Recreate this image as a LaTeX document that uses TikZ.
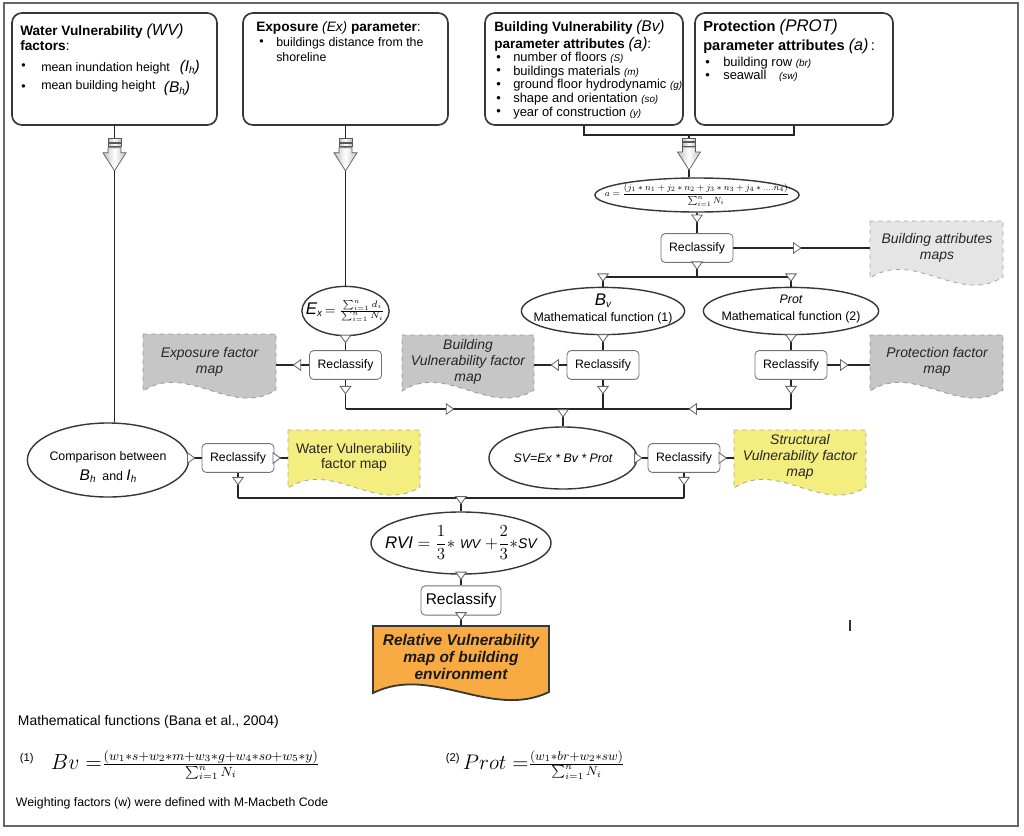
\RequirePackage{fix-cm}
\documentclass[tikz,border=0pt]{standalone}
\usepackage[no-math]{fontspec}
\setmainfont{Liberation Sans}
\usepackage{amsmath}
\usepackage{graphicx}
\usepackage{tikz}
\usetikzlibrary{arrows.meta,positioning,calc,fit,shapes.geometric,decorations.markings}

\definecolor{inkgray}{RGB}{55,55,55}
\definecolor{mapgray}{RGB}{198,198,198}
\definecolor{attrgray}{RGB}{229,229,229}
\definecolor{mapyellow}{RGB}{244,237,128}
\definecolor{maporange}{RGB}{249,171,67}

\newcommand{\lowsub}[2]{#1\raisebox{-0.3ex}{\scriptsize #2}}
% document shape with a wavy bottom: style, name, left, top, right, bottom of the sides
\newcommand{\mapdoc}[6]{%
  \pgfmathsetmacro{\mdA}{#5-(#5-#3)/3}
  \pgfmathsetmacro{\mdB}{#3+(#5-#3)/3}
  \draw[#1] (#3,#4) -- (#5,#4) -- (#5,#6) .. controls (\mdA,#6+28) and (\mdB,#6-28) .. (#3,#6+1) -- cycle;
  \node[fit={(#3,#4) (#5,#6)}, inner sep=0pt] (#2) {};
}

\tikzset{
  topbox/.style={draw=inkgray, line width=1.2pt, rounded corners=7pt, inner sep=0pt},
  rcbox/.style={draw=black!55, line width=0.6pt, rounded corners=3pt, fill=white, inner sep=0pt,
    minimum width=1.8cm, minimum height=0.72cm, font=\fontsize{8.7}{10}\selectfont},
  fnell/.style={ellipse, draw=inkgray, line width=1pt, fill=white, inner sep=0pt},
  elltxt/.style={align=center, inner sep=0pt, font=\fontsize{8.8}{12}\selectfont},
  link/.style={draw=black!85, line width=1.1pt},
  midarrow/.style={postaction={decorate}, decoration={markings, mark=at position #1 with
    {\arrow[black!60, line width=0.6pt]{Triangle[open, fill=white, width=8.5pt, length=6pt]}}}},
  midarrow/.default=0.5,
  hdr/.style={anchor=west, inner sep=0pt, font=\fontsize{9.7}{11}\selectfont\bfseries},
  itm/.style={anchor=west, inner sep=0pt, font=\fontsize{8.8}{10}\selectfont},
  greymap/.style={fill=mapgray, draw=black!40, dashed, line width=0.6pt},
  attrmap/.style={fill=attrgray, draw=black!35, dashed, line width=0.6pt},
  yellowmap/.style={fill=mapyellow, draw=black!35, dashed, line width=0.6pt},
  finalmap/.style={fill=maporange, draw=inkgray, line width=1.3pt},
  maptxt/.style={align=center, inner sep=0pt, font=\fontsize{9.9}{11.6}\selectfont\itshape, text=black!85},
  blockarrow/.pic={
    \shadedraw[left color=black!25, right color=black!25, middle color=white, draw=black!65, line width=0.5pt]
      (-6.5,0) rectangle (6.5,3.5) (-6.5,4.5) rectangle (6.5,8);
    \shadedraw[left color=black!25, right color=black!25, middle color=white, draw=black!65, line width=0.5pt]
      (-6.5,9) -- (6.5,9) -- (6.5,14) -- (11.5,14) -- (0,32) -- (-11.5,14) -- (-6.5,14) -- cycle;
  }
}

\begin{document}
\begin{tikzpicture}[x=0.025cm, y=-0.025cm]
  \useasboundingbox (0,0) rectangle (1024,835);
  \draw[black!60, line width=0.8pt] (4,3) rectangle (1018,826);

  % Parameter boxes
  \node[topbox, fit={(12,13) (217,125)}] (wvbox) {};
  \node[topbox, fit={(243,13) (448,125)}] (exbox) {};
  \node[topbox, fit={(485,13) (683,125)}] (bvbox) {};
  \node[topbox, fit={(695,13) (893,125)}] (protbox) {};

  \node[hdr] (wvh1) at (20,31) {Water Vulnerability {\mdseries\itshape\fontsize{11.5}{12}\selectfont(WV)}};
  \node[hdr] (wvh2) at (20,46) {factors{\mdseries:}};
  \node[itm] (wvb1) at (21,67) {\textbullet};
  \node[itm] (wvi1) at (41,67) {mean inundation height\hspace{7pt}{\itshape\fontsize{11}{12}\selectfont(\lowsub{I}{h})}};
  \node[itm] (wvb2) at (21,88) {\textbullet};
  \node[itm] (wvi2) at (41,88) {mean building height\hspace{6pt}\raisebox{-2pt}{\itshape\fontsize{11}{12}\selectfont(\lowsub{B}{h})}};

  \node[hdr] (exh) at (256,28) {Exposure {\mdseries\itshape(Ex)} parameter{\mdseries:}};
  \node[itm] (exb1) at (259,43) {\textbullet};
  \node[itm] (exi1) at (276,43) {buildings distance from the};
  \node[itm] (exi2) at (276,57) {shoreline};

  \node[hdr, font=\fontsize{9.6}{11}\selectfont\bfseries] (bvh1) at (494,27) {Building Vulnerability {\mdseries\itshape\fontsize{11}{12}\selectfont(Bv)}};
  \node[hdr, font=\fontsize{9.6}{11}\selectfont\bfseries] (bvh2) at (494,44) {parameter attributes {\mdseries\itshape\fontsize{11}{12}\selectfont(a)}{\mdseries:}};
  \foreach \txt [count=\k] in {number of floors {\itshape\scriptsize(S)},
      buildings materials {\itshape\scriptsize(m)}, ground floor hydrodynamic {\itshape\scriptsize(g)},
      shape and orientation {\itshape\scriptsize(so)}, year of construction {\itshape\scriptsize(y)}} {
    \node[itm, font=\fontsize{9.2}{10}\selectfont] (bvb\k) at (496,44.3+13.7*\k) {\textbullet};
    \node[itm, font=\fontsize{9.2}{10}\selectfont] (bvi\k) at (513,44.3+13.7*\k) {\txt};
  }

  \node[hdr, font=\fontsize{10.4}{12}\selectfont\bfseries] (proth1) at (703,27) {Protection {\mdseries\itshape\fontsize{12}{13}\selectfont(PROT)}};
  \node[hdr, font=\fontsize{10.4}{12}\selectfont\bfseries] (proth2) at (703,46) {parameter attributes {\mdseries\itshape\fontsize{11.5}{12}\selectfont(a)}{\mdseries\,:}};
  \node[itm, font=\fontsize{9.2}{10}\selectfont] (protb1) at (705,63) {\textbullet};
  \node[itm, font=\fontsize{9.2}{10}\selectfont] (proti1) at (723,63) {building row {\itshape\scriptsize(br)}};
  \node[itm, font=\fontsize{9.2}{10}\selectfont] (protb2) at (705,76) {\textbullet};
  \node[itm, font=\fontsize{9.2}{10}\selectfont] (proti2) at (723,76) {seawall\hspace{9pt}{\itshape\scriptsize(sw)}};

  % Functions and reclassification steps
  \node[fnell, minimum width=5.1cm, minimum height=0.85cm] (aform) at (697,195) {};
  \node[elltxt, font=\fontsize{8}{9}\selectfont] (aformtxt) at (aform) {\resizebox{4.6cm}{!}{$a=\dfrac{(j_1*n_1+j_2*n_2+j_3*n_3+j_4*....n_4)}{\sum_{i=1}^{n}N_i}$}};
  \node[rcbox] (rc1) at (697,248) {Reclassify};

  \node[fnell, minimum width=4.08cm, minimum height=1.18cm] (bvell) at (603,311) {};
  \node[elltxt] (bvelltxt) at (603,309) {{\itshape\fontsize{12}{12}\selectfont\lowsub{B}{v}}\\Mathematical function (1)};
  \node[fnell, minimum width=4.38cm, minimum height=1.18cm] (protell) at (791,311) {};
  \node[elltxt] (protelltxt) at (791,309) {{\itshape Prot}\\Mathematical function (2)};
  \node[fnell, minimum width=2.18cm, minimum height=1.23cm] (exell) at (345.5,311) {};
  \node[elltxt, font=\fontsize{12}{12}\selectfont] (exelltxt) at (345.5,311) {{\itshape\lowsub{E}{x}}\,{\fontsize{9.5}{10}\selectfont$=\frac{\sum_{i=1}^{n}d_i}{\sum_{i=1}^{n}N_i}$}};

  \node[rcbox] (exrc) at (345.5,365) {Reclassify};
  \node[rcbox] (bvrc) at (603,365) {Reclassify};
  \node[rcbox] (protrc) at (791,365) {Reclassify};

  \node[fnell, minimum width=3.7cm, minimum height=1.55cm] (sv) at (563,458) {};
  \node[elltxt] (svtxt) at (563,458) {\itshape SV=Ex * Bv * Prot};
  \node[rcbox] (svrc) at (684,458) {Reclassify};

  \node[fnell, minimum width=4.03cm, minimum height=1.85cm] (cmp) at (108,460) {};
  \node[elltxt, font=\fontsize{8.8}{14}\selectfont] (cmptxt) at (108,467) {Comparison between\\{\itshape\fontsize{11}{11}\selectfont\lowsub{B}{h}}\ \ and {\itshape\fontsize{11}{11}\selectfont\lowsub{I}{h}}};
  \node[rcbox] (wrc) at (238,458) {Reclassify};

  \node[fnell, minimum width=4.5cm, minimum height=1.55cm] (rvi) at (461,543) {};
  \node[elltxt, font=\fontsize{12}{12}\selectfont] (rvitxt) at (461,543) {{\itshape RVI} $=\dfrac{1}{3}*$ {\itshape\fontsize{9}{9}\selectfont WV} $+\dfrac{2}{3}*${\itshape\fontsize{10}{10}\selectfont SV}};
  \node[rcbox, minimum width=2.0cm, minimum height=0.73cm, font=\fontsize{11}{12}\selectfont] (finrc) at (461,600.5) {Reclassify};

  % Output maps
  \mapdoc{attrmap}{attrdoc}{870}{221}{1003}{277}
  \node[maptxt] (attrdoctxt) at (937,248) {Building attributes\\maps};
  \mapdoc{greymap}{expdoc}{143}{334}{276}{390}
  \node[maptxt] (expdoctxt) at (209.5,362) {Exposure factor\\map};
  \mapdoc{greymap}{bvdoc}{402}{335}{534}{390}
  \node[maptxt] (bvdoctxt) at (468,362) {Building\\Vulnerability factor\\map};
  \mapdoc{greymap}{protdoc}{870}{335}{1003}{390}
  \node[maptxt] (protdoctxt) at (937,362) {Protection factor\\map};
  \mapdoc{yellowmap}{wvdoc}{288}{430}{420}{487}
  \node[maptxt, font=\fontsize{9.9}{10.7}\selectfont] (wvdoctxt) at (354,457) {Water Vulnerability\\factor map};
  \mapdoc{yellowmap}{svdoc}{734}{430}{866}{487}
  \node[maptxt] (svdoctxt) at (800,457) {Structural\\Vulnerability factor\\map};
  \mapdoc{finalmap}{rvidoc}{373}{626}{549}{692}
  \node[maptxt, font=\fontsize{11}{11.8}\selectfont\bfseries\itshape, text=black!90] (rvidoctxt) at (461,657) {Relative Vulnerability\\map of building\\environment};

  % Connectors
  \draw[link] (wvbox.south) -- (wvbox.south |- cmp.north);
  \pic at ($(wvbox.south)+(0,13)$) {blockarrow};
  \draw[link] (exbox.south) -- (exell);
  \pic at ($(exbox.south)+(0,13)$) {blockarrow};
  \coordinate (bvjoin) at (689,135);
  \draw[link] (bvbox.south) |- (bvjoin) -| (protbox.south);
  \draw[link] (bvjoin) -- (bvjoin |- aform.north);
  \pic at ($(bvjoin)+(0,3)$) {blockarrow};

  \draw[link, midarrow] (aform) -- (rc1);
  \draw[link, midarrow] (rc1) -- (rc1 -| attrdoc.west);
  \coordinate (split) at (697,277);
  \draw[link, midarrow] (rc1) -- (split);
  \draw[link] (split -| bvell) -- (split -| protell);
  \draw[link, midarrow] (split -| bvell) -- (bvell);
  \draw[link, midarrow] (split -| protell) -- (protell);

  \draw[link, midarrow] (exell) -- (exrc);
  \draw[link, midarrow] (bvell) -- (bvrc);
  \draw[link, midarrow] (protell) -- (protrc);
  \draw[link, midarrow] (exrc) -- (exrc -| expdoc.east);
  \draw[link, midarrow] (bvrc) -- (bvrc -| bvdoc.east);
  \draw[link, midarrow] (protrc) -- (protrc -| protdoc.west);

  \coordinate (hub) at (563,409);
  \draw[link, midarrow] (exrc) -- (exrc |- hub);
  \draw[link, midarrow] (exrc |- hub) -- (hub);
  \draw[link, midarrow] (bvrc) -- (bvrc |- hub);
  \draw[link, midarrow] (protrc) -- (protrc |- hub);
  \draw[link, midarrow=0.45] (protrc |- hub) -- (hub);
  \draw[link, midarrow] (hub) -- (sv);

  \draw[link, midarrow] (sv) -- (svrc);
  \draw[link, midarrow] (svrc) -- (svrc -| svdoc.west);
  \draw[link, midarrow] (wrc -| cmp.east) -- (wrc);
  \draw[link, midarrow] (wrc) -- (wrc -| wvdoc.west);
  \coordinate (join2) at (461,498);
  \draw[link, midarrow] (svrc) -- (svrc |- join2);
  \draw[link, midarrow] (wrc) -- (wrc |- join2);
  \draw[link] (wrc |- join2) -- (svrc |- join2);
  \draw[link, midarrow] (join2) -- (rvi);
  \draw[link, midarrow] (rvi) -- (finrc);
  \draw[link, midarrow] (finrc) -- (rvidoc);

  \draw[black!80, line width=0.8pt] (850,620) -- (850,631);

  % Mathematical functions
  \node[anchor=west, font=\fontsize{9.9}{11}\selectfont] (mfhead) at (13,722) {Mathematical functions (Bana et al., 2004)};
  \node[anchor=west, font=\fontsize{8}{9}\selectfont] (eqonenum) at (15,759) {(1)};
  \node[anchor=west, font=\fontsize{13.5}{14}\selectfont] (eqone) at (46,765) {{\fontsize{15.5}{16}\selectfont$Bv=$}$\frac{(w_1*s+w_2*m+w_3*g+w_4*so+w_5*y)}{\sum_{i=1}^{n}N_i}$};
  \node[anchor=west, font=\fontsize{8}{9}\selectfont] (eqtwonum) at (441,759) {(2)};
  \node[anchor=west, font=\fontsize{13}{14}\selectfont] (eqtwo) at (458,765) {{\fontsize{15}{16}\selectfont$Prot=$}$\frac{(w_1*br+w_2*sw)}{\sum_{i=1}^{n}N_i}$};
  \node[anchor=west, font=\fontsize{8.75}{10}\selectfont] (wnote) at (11,803) {Weighting factors (w) were defined with M-Macbeth Code};
\end{tikzpicture}
\end{document}
